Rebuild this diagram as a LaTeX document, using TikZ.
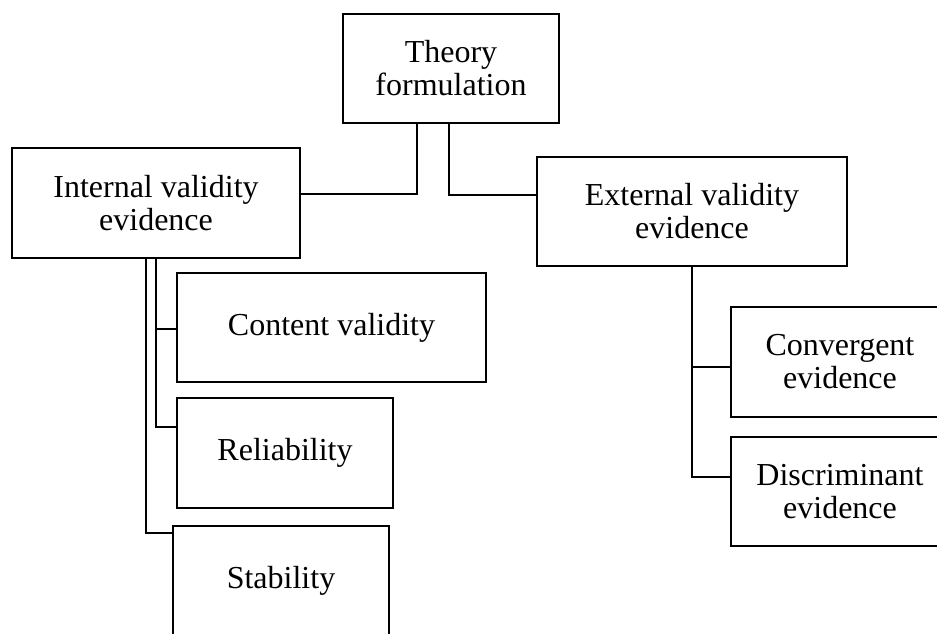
\documentclass[tikz,border=0pt]{standalone}
\usepackage{fontspec}
\setmainfont{Liberation Serif}
\begin{document}
\begin{tikzpicture}[x=1pt,y=-1pt,
  box/.style={draw=black,line width=2pt,fill=white,inner sep=0pt,align=center,
    font=\fontsize{32}{33}\selectfont},
  link/.style={draw=black,line width=2.8pt}]
\clip (0,0) rectangle (937,633);
\node[box,minimum width=216pt,minimum height=109pt] (theory) at (451,68.5) {Theory\\formulation};
\node[box,minimum width=288pt,minimum height=110pt] (internal) at (156,203) {Internal validity\\evidence};
\node[box,minimum width=310pt,minimum height=109pt] (external) at (692,211.5) {External validity\\evidence};
\node[box,minimum width=309pt,minimum height=109pt] (content) at (331.5,327.5) {Content validity};
\node[box,minimum width=216pt,minimum height=110pt] (reliab) at (285,453) {Reliability};
\node[box,minimum width=216pt,minimum height=110pt] (stab) at (281,581) {Stability};
\node[box,minimum width=218pt,minimum height=110pt] (conv) at (840,362) {Convergent\\evidence};
\node[box,minimum width=218pt,minimum height=109pt] (disc) at (840,491.5) {Discriminant\\evidence};
\draw[link] ([xshift=-34pt]theory.south) |- ([yshift=9pt]internal.east);
\draw[link] ([xshift=-2pt]theory.south) |- ([yshift=16.5pt]external.west);
\draw[link] (internal.south) |- ([yshift=-1.5pt]content.west);
\draw[link] (internal.south) |- ([yshift=26pt]reliab.west);
\draw[link] ([xshift=-10pt]internal.south) |- ([yshift=48pt]stab.west);
\draw[link] (external.south) |- ([yshift=-5pt]conv.west);
\draw[link] (external.south) |- ([yshift=14.5pt]disc.west);
\end{tikzpicture}
\end{document}
